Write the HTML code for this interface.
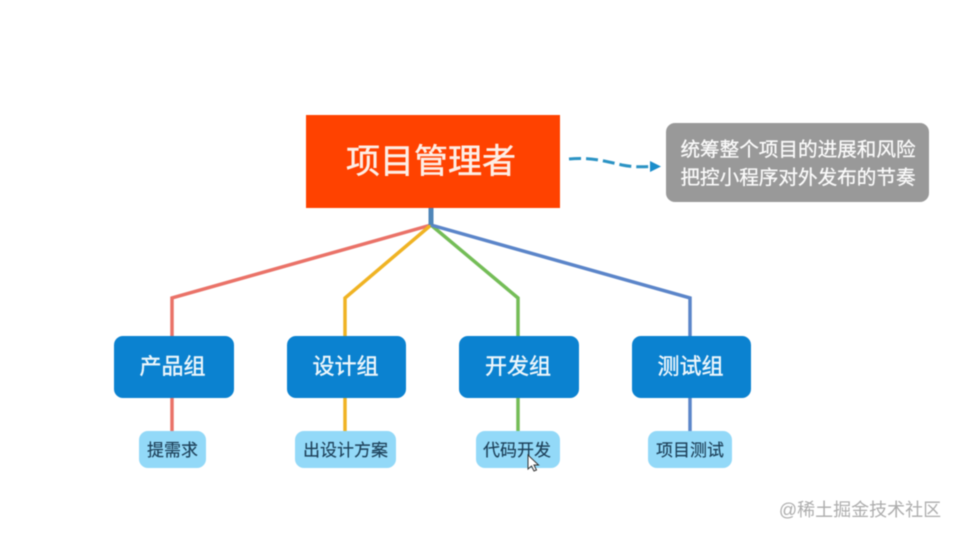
<!DOCTYPE html>
<html lang="zh">
<head>
<meta charset="utf-8">
<style>
html,body{margin:0;padding:0;background:#fff;}
body{width:957px;height:538px;overflow:hidden;position:relative;font-family:"Liberation Sans","Noto Sans CJK SC",sans-serif;}
svg{position:absolute;left:0;top:0;filter:blur(.5px);}
text{font-family:"Liberation Sans","Noto Sans CJK SC",sans-serif;text-anchor:middle;}
</style>
</head>
<body>
<svg width="957" height="538" viewBox="0 0 957 538" xmlns="http://www.w3.org/2000/svg">
  <rect width="957" height="538" fill="#fff"/>
  <!-- connectors -->
  <g fill="none" stroke-width="3.500" stroke-linejoin="miter">
    <path d="M431 225 L172 298 V336" stroke="#ea7268"/>
    <path d="M172 398 V431" stroke="#ea7268"/>
    <path d="M431 225 L345 298 V336" stroke="#f0b323"/>
    <path d="M345 398 V431" stroke="#f0b323"/>
    <path d="M431 225 L518 298 V336" stroke="#74bd57"/>
    <path d="M518 398 V431" stroke="#74bd57"/>
    <path d="M431 225 L690 298 V336" stroke="#5b85c9"/>
    <path d="M690 398 V431" stroke="#5b85c9"/>
    <path d="M431 208 V225" stroke="#4f86b8" stroke-width="5"/>
  </g>
  <!-- root -->
  <rect x="306" y="115" width="254" height="93" fill="#ff4200"/>
  <text x="431" y="173" font-size="34" fill="#fdeee6" stroke="#fdeee6" stroke-width=".5">项目管理者</text>
  <!-- dashed arrow -->
  <path d="M569 159 C 590 157, 605 161, 622 165 C 632 167, 640 167, 651 166.500" fill="none" stroke="#2b93c4" stroke-width="3" stroke-dasharray="12 5"/>
  <polygon points="650,161 661,166.500 650,172" fill="#1a8dcb"/>
  <!-- note -->
  <rect x="666" y="123" width="263" height="79" rx="9" fill="#999999"/>
  <g stroke="#fafafa" stroke-width=".3" fill="#fafafa" font-size="19.600">
    <text x="798" y="156">统筹整个项目的进展和风险</text>
    <text x="798" y="184">把控小程序对外发布的节奏</text>
  </g>
  <!-- groups -->
  <g fill="#0b82d0">
    <rect x="114" y="336" width="120" height="62" rx="9"/>
    <rect x="287" y="336" width="119" height="62" rx="9"/>
    <rect x="459" y="336" width="120" height="62" rx="9"/>
    <rect x="632" y="336" width="119" height="62" rx="9"/>
  </g>
  <g font-size="22" fill="#eef7fc" stroke="#eef7fc" stroke-width=".4">
    <text x="172.500" y="374">产品组</text>
    <text x="345.500" y="374">设计组</text>
    <text x="518" y="374">开发组</text>
    <text x="690.500" y="374">测试组</text>
  </g>
  <!-- tasks -->
  <g fill="#93d9f8">
    <rect x="139" y="431" width="67" height="37" rx="9"/>
    <rect x="295" y="431" width="101" height="37" rx="9"/>
    <rect x="476" y="431" width="84" height="37" rx="9"/>
    <rect x="648" y="431" width="84" height="37" rx="9"/>
  </g>
  <g font-size="17" fill="#1d4059" stroke="#1d4059" stroke-width=".15">
    <text x="172.500" y="456">提需求</text>
    <text x="345.500" y="456">出设计方案</text>
    <text x="517" y="456">代码开发</text>
    <text x="690" y="456">项目测试</text>
  </g>
  <!-- cursor -->
  <path d="M528 455 V469 L531.500 466 L534 471 L536.500 470 L534 465 L538.500 465 Z" fill="#fff" stroke="#333" stroke-width="1"/>
  <!-- watermark -->
  <text x="860" y="516" font-size="18" fill="#adadad">@稀土掘金技术社区</text>
</svg>
</body>
</html>
